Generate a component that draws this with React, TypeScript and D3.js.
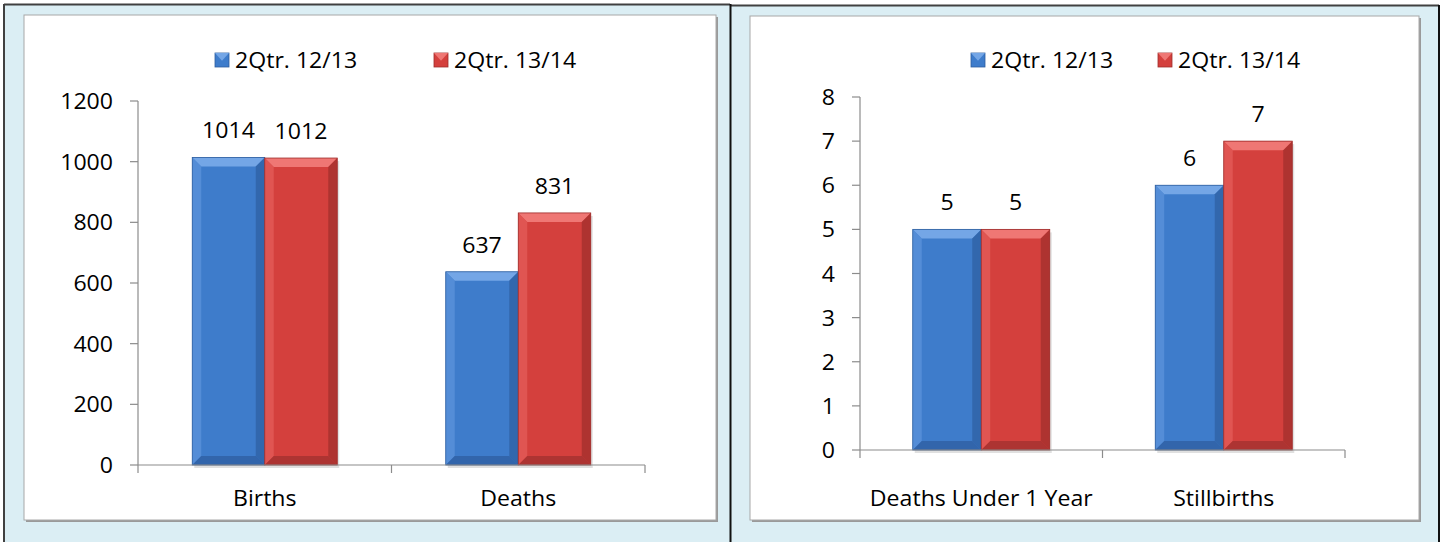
import React from "react";
import * as d3 from "d3";

const seriesNames = ["2Qtr. 12/13", "2Qtr. 13/14"];
const leftCategories = ["Births", "Deaths"];
const leftSeriesA = [1014, 637];
const leftSeriesB = [1012, 831];
const leftTicks = [0, 200, 400, 600, 800, 1000, 1200];
const rightCategories = ["Deaths Under 1 Year", "Stillbirths"];
const rightSeriesA = [5, 6];
const rightSeriesB = [5, 7];
const rightTicks = [0, 1, 2, 3, 4, 5, 6, 7, 8];

const W = 1443;
const H = 542;
const FONT = "'Open Sans', sans-serif";
const SX = 1.1;

const palettes = {
  blue: { face: "#3E7CCB", top: "#74A6E6", left: "#5A91DA", right: "#2D5E9F", bottom: "#2F5FA3" },
  red: { face: "#D4403D", top: "#EF7774", left: "#E25A57", right: "#9E2D2B", bottom: "#A33130" },
};

function T({ x, y, anchor = "middle", children, size = 21 }: any) {
  return (
    <g transform={`translate(${x},${y}) scale(${SX},1)`}>
      <text x={0} y={0} textAnchor={anchor} fontFamily={FONT} fontSize={size} fill="#000">
        {children}
      </text>
    </g>
  );
}

function Bar({ x, y, w, h, pal }: any) {
  const b = Math.min(9, h / 2, w / 2);
  const x1 = x + w;
  const y1 = y + h;
  return (
    <g>
      <rect x={x + 2} y={y + 3} width={w} height={h} fill="#000" opacity={0.12} />
      <rect x={x} y={y} width={w} height={h} fill={pal.face} />
      <polygon points={`${x},${y} ${x1},${y} ${x1 - b},${y + b} ${x + b},${y + b}`} fill={pal.top} />
      <polygon points={`${x},${y} ${x + b},${y + b} ${x + b},${y1 - b} ${x},${y1}`} fill={pal.left} opacity={0.8} />
      <polygon points={`${x1},${y} ${x1},${y1} ${x1 - b},${y1 - b} ${x1 - b},${y + b}`} fill={pal.right} opacity={0.7} />
      <polygon points={`${x},${y1} ${x + b},${y1 - b} ${x1 - b},${y1 - b} ${x1},${y1}`} fill={pal.bottom} opacity={0.8} />
      <rect x={x} y={y} width={w} height={h} fill="none" stroke={pal.right} strokeWidth={0.8} />
    </g>
  );
}

function LegendMarker({ x, y, pal }: any) {
  const s = 14;
  return (
    <g>
      <rect x={x} y={y} width={s} height={s} fill={pal.face} stroke={pal.right} strokeWidth={0.8} />
      <polygon points={`${x},${y} ${x + s},${y} ${x + s / 2},${y + s * 0.55}`} fill={pal.top} />
    </g>
  );
}

function Chart({ cfg }: any) {
  const { cats, a, b, ticks, yMax, x0, x1, yTop, yBottom, pad, legend, outer, inner } = cfg;
  const y = d3.scaleLinear().domain([0, yMax]).range([yBottom, yTop]);
  const xb = d3.scaleBand<string>().domain(cats).range([x0, x1]).paddingInner(pad).paddingOuter(pad / 2);
  const step = xb.step();
  const bw = xb.bandwidth() / 2;
  const sepTicks = d3.range(cats.length + 1).map((i) => x0 + i * step);
  return (
    <g>
      <rect x={outer.x} y={outer.y} width={outer.w} height={outer.h} fill="#DBEEF4" />
      <rect x={inner.x + 2} y={inner.y + 2} width={inner.w} height={inner.h} fill="#9A9A9A" />
      <rect x={inner.x} y={inner.y} width={inner.w} height={inner.h} fill="#fff" stroke="#A8A8A8" strokeWidth={1} />
      {/* legend */}
      <LegendMarker x={legend[0]} y={53} pal={palettes.blue} />
      <T x={legend[0] + 20} y={68} anchor="start">{seriesNames[0]}</T>
      <LegendMarker x={legend[1]} y={53} pal={palettes.red} />
      <T x={legend[1] + 20} y={68} anchor="start">{seriesNames[1]}</T>
      {/* bars */}
      {cats.map((c: string, i: number) => {
        const bx = xb(c)!;
        return (
          <g key={c}>
            <Bar x={bx} y={y(a[i])} w={bw} h={yBottom - y(a[i])} pal={palettes.blue} />
            <Bar x={bx + bw} y={y(b[i])} w={bw} h={yBottom - y(b[i])} pal={palettes.red} />
            <T x={bx + bw / 2} y={y(a[i]) - 19}>{a[i]}</T>
            <T x={bx + bw * 1.5} y={y(b[i]) - 19}>{b[i]}</T>
            <T x={bx + bw} y={506}>{c}</T>
          </g>
        );
      })}
      {/* axes */}
      <line x1={x0} x2={x0} y1={yTop} y2={yBottom} stroke="#8C8C8C" strokeWidth={1.2} />
      {ticks.map((t: number) => (
        <g key={t}>
          <line x1={x0 - 8} x2={x0} y1={y(t)} y2={y(t)} stroke="#8C8C8C" strokeWidth={1.2} />
          <T x={x0 - 25} y={y(t) + 8} anchor="end">{t}</T>
        </g>
      ))}
      <line x1={x0} x2={x1} y1={yBottom} y2={yBottom} stroke="#8C8C8C" strokeWidth={1.2} />
      {sepTicks.map((sx: number, i: number) => (
        <line key={i} x1={sx} x2={sx} y1={yBottom} y2={yBottom + 8} stroke="#8C8C8C" strokeWidth={1.2} />
      ))}
    </g>
  );
}

export default function App() {
  const left = {
    cats: leftCategories, a: leftSeriesA, b: leftSeriesB, ticks: leftTicks, yMax: 1200,
    x0: 138, x1: 645, yTop: 101, yBottom: 465, pad: 0.428, legend: [215, 434],
    outer: { x: 4, y: 4, w: 726, h: 545 }, inner: { x: 24, y: 15, w: 692, h: 505 },
  };
  const right = {
    cats: rightCategories, a: rightSeriesA, b: rightSeriesB, ticks: rightTicks, yMax: 8,
    x0: 860, x1: 1345, yTop: 97, yBottom: 450, pad: 0.435, legend: [971, 1158],
    outer: { x: 731, y: 5, w: 708, h: 545 }, inner: { x: 750, y: 16, w: 669, h: 504 },
  };
  return (
    <svg width={W} height={H} style={{ position: "absolute", left: 0, top: 0, background: "#fff" }}>
      <Chart cfg={left} />
      <Chart cfg={right} />
      {/* outer borders */}
      <line x1={4} x2={4} y1={4} y2={H} stroke="#404040" strokeWidth={2} />
      <line x1={4} x2={730} y1={4.5} y2={4.5} stroke="#404040" strokeWidth={2} />
      <line x1={731} x2={1439} y1={5.5} y2={5.5} stroke="#404040" strokeWidth={2} />
      <line x1={730.5} x2={730.5} y1={4} y2={H} stroke="#111" strokeWidth={2} />
      <line x1={1439} x2={1439} y1={5} y2={H} stroke="#111" strokeWidth={2} />
    </svg>
  );
}
